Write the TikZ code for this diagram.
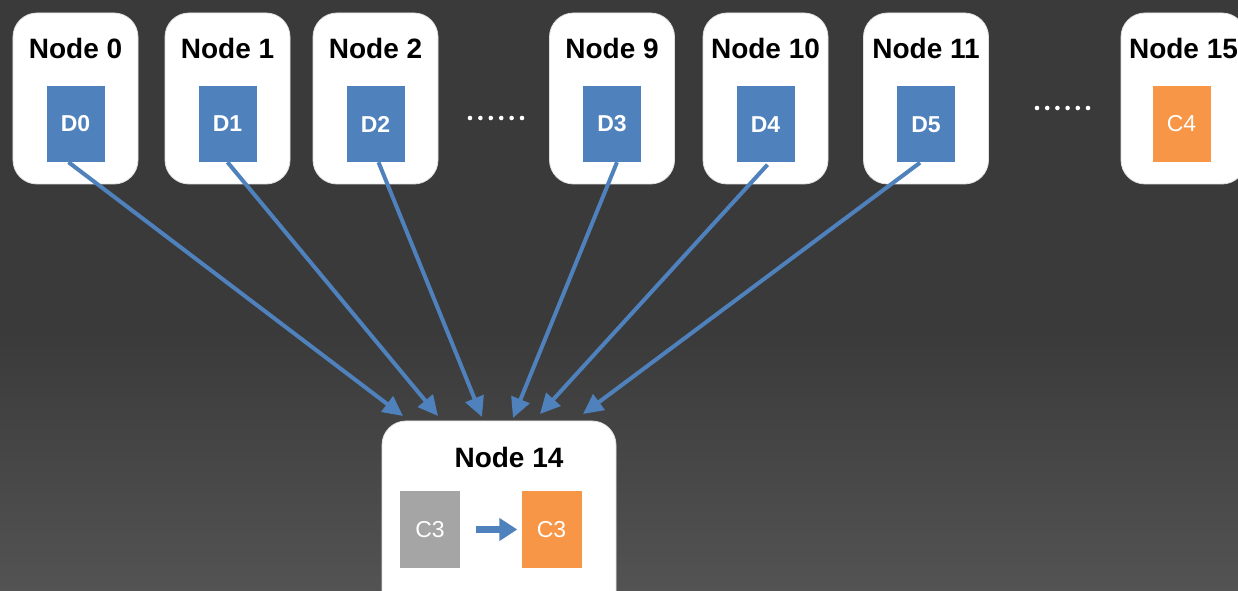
\documentclass[tikz,border=0pt]{standalone}
\usepackage{fontspec}
\setmainfont{Liberation Sans}
\usetikzlibrary{arrows.meta}
\definecolor{bgtop}{HTML}{3A3A3A}
\definecolor{bgbot}{HTML}{535353}
\definecolor{dblue}{HTML}{4F81BD}
\definecolor{corange}{HTML}{F79646}
\definecolor{cgray}{HTML}{A5A5A5}
\tikzset{
  hostbox/.style={fill=white, draw=black!12, line width=0.8bp, rounded corners=24bp,
    minimum width=125bp, minimum height=171bp, inner sep=0pt},
  hosttitle/.style={anchor=base, inner sep=0pt, text=black,
    font=\fontsize{28bp}{30bp}\selectfont\bfseries},
  block/.style={minimum width=58bp, minimum height=76bp, inner sep=0pt, text=white},
  datablock/.style={block, fill=dblue, font=\fontsize{23bp}{25bp}\selectfont\bfseries},
  codeblock/.style={block, fill=corange, font=\fontsize{23bp}{25bp}\selectfont},
  oldblock/.style={block, fill=cgray, font=\fontsize{23bp}{25bp}\selectfont},
  flow/.style={draw=dblue, line width=4bp, -{Triangle[length=20bp,width=19bp]}},
  move/.style={draw=dblue, line width=7bp, -{Triangle[length=18bp,width=22bp]},
    shorten <=16bp, shorten >=4bp},
  dotmark/.style={fill=white}
}
\begin{document}
\begin{tikzpicture}[x=1bp, y=-1bp]
\useasboundingbox (0,0) rectangle (1238,591);
\clip (0,0) rectangle (1238,591);

% background
\fill[bgtop] (0,0) rectangle (1238,330);
\shade[top color=bgtop, bottom color=bgbot] (0,330) rectangle (1238,591);

% source hosts
\node[hostbox] (n0) at (75.5,98.5) {};
\node[hosttitle] (t0) at (75.5,59) {Node 0};
\node[datablock] (d0) at (75.5,124) {D0};

\node[hostbox] (n1) at (227.5,98.5) {};
\node[hosttitle] (t1) at (227.5,59) {Node 1};
\node[datablock] (d1) at (227.5,124) {D1};

\node[hostbox] (n2) at (375.5,98.5) {};
\node[hosttitle] (t2) at (375.5,59) {Node 2};
\node[datablock] (d2) at (375.5,124) {D2};

\node[hostbox] (n9) at (612,98.5) {};
\node[hosttitle] (t9) at (612,59) {Node 9};
\node[datablock] (d3) at (612,124) {D3};

\node[hostbox] (n10) at (765.5,98.5) {};
\node[hosttitle] (t10) at (765.5,59) {Node 10};
\node[datablock] (d4) at (765.5,124.5) {D4};

\node[hostbox] (n11) at (926,98.5) {};
\node[hosttitle] (t11) at (926,59) {Node 11};
\node[datablock] (d5) at (926,124.5) {D5};

\node[hostbox] (n15) at (1183.5,98.5) {};
\node[hosttitle] (t15) at (1183.5,59) {Node 15};
\node[codeblock] (c4) at (1181.5,124) {C4};

% ellipses between hosts
\foreach \i in {0,...,5} {
  \fill[dotmark] (470+\i*10.4,118) circle (2.3);
  \fill[dotmark] (1037+\i*10.2,108) circle (2.3);
}

% recovering host
\node[hostbox, minimum width=234bp, minimum height=220bp] (n14) at (499,531) {};
\node[hosttitle] (t14) at (509,467) {Node 14};
\node[oldblock, minimum width=60bp, minimum height=77bp] (c3a) at (430,529.5) {C3};
\node[codeblock, minimum width=60bp, minimum height=77bp] (c3b) at (551.5,529.5) {C3};
\draw[move] (c3a.east) -- (c3b.west);

% arrow targets on top of Node 14
\coordinate (e0) at (403,416);
\coordinate (e1) at (438,416);
\coordinate (e2) at (482,417);
\coordinate (e3) at (513,418);
\coordinate (e4) at (540,414);
\coordinate (e5) at (583,414);

\draw[flow] ([xshift=-7bp]d0.south) -- (e0);
\draw[flow] (d1.south) -- (e1);
\draw[flow] ([xshift=3bp]d2.south) -- (e2);
\draw[flow] ([xshift=5bp]d3.south) -- (e3);
\draw[flow] ([xshift=2bp,yshift=-2bp]d4.south) -- (e4);
\draw[flow] ([xshift=-6bp]d5.south) -- (e5);
\end{tikzpicture}
\end{document}
